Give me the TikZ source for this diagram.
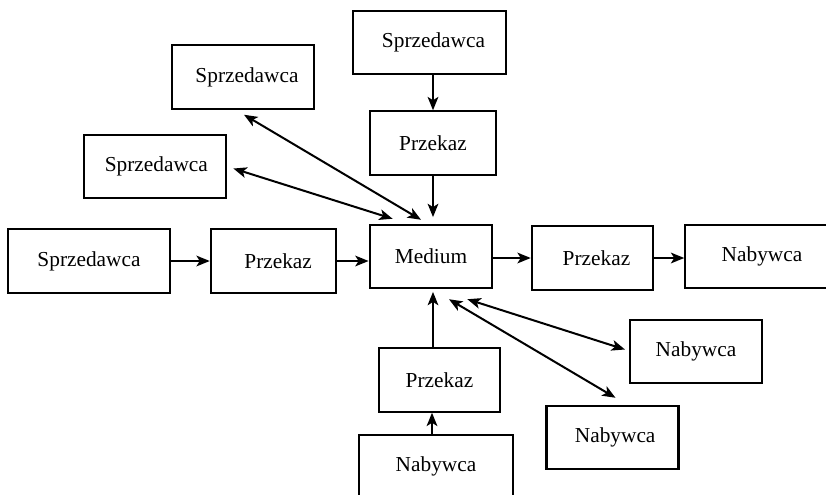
\documentclass[tikz,border=0pt]{standalone}
\usepackage{fontspec}
\setmainfont{Liberation Serif}
\usetikzlibrary{arrows.meta,calc}
\begin{document}
\begin{tikzpicture}[x=0.75pt,y=0.75pt,yscale=-1,xscale=1,
	box/.style={draw,line width=1.6pt,rectangle,inner sep=0.75pt,minimum height=47.5pt,font=\fontsize{16}{19}\selectfont},
	arr/.style={line width=1.5pt,-{Stealth[length=10pt,width=8pt,inset=2.5pt]}},
	dblarr/.style={line width=1.5pt,{Stealth[length=10pt,width=8pt,inset=2.5pt]}-{Stealth[length=10pt,width=8pt,inset=2.5pt]}}]
	\useasboundingbox (0,0) rectangle (826,494);
	\clip (0,0) rectangle (826,494);
	
	% Text Node
	\node [box,minimum width=115pt] (sprz1) at (429.5,42.5) {\hspace{6pt}Sprzedawca};
	% Text Node
	\node [box,minimum width=94pt] (przek2) at (433,143) {Przekaz};
	% Text Node
	\node [box,minimum width=107pt] (sprz2) at (243,77) {\hspace{6pt}Sprzedawca};
	% Text Node
	\node [box,minimum width=107pt] (sprz3) at (155,166.5) {\hspace{2pt}Sprzedawca};
	% Text Node
	\node [box,minimum width=122pt] (sprz4) at (89,261) {Sprzedawca};
	% Text Node
	\node [box,minimum width=94pt] (przek1) at (273.5,261) {\hspace{7pt}Przekaz};
	% Text Node
	\node [box,minimum width=92pt] (medium) at (431,256.5) {Medium};
	% Text Node
	\node [box,minimum width=91pt] (przek3) at (592.5,258) {\hspace{6pt}Przekaz};
	% Text Node
	\node [box,minimum width=115pt] (nab1) at (762,256.5) {Nabywca};
	% Text Node
	\node [box,minimum width=99pt] (nab2) at (696,351.5) {Nabywca};
	% Text Node
	\node [box,minimum width=99pt] (nab3) at (612.5,437.5) {\hspace{4pt}Nabywca};
	% Text Node
	\node [box,minimum width=91pt] (przek4) at (439.5,380) {Przekaz};
	% Text Node
	\node [box,minimum width=115pt] (nab4) at (436,466.5) {Nabywca};
	
	%Straight Lines
	\draw [arr] (przek2.north |- sprz1.south) -- (przek2.north);
	%Straight Lines
	\draw [arr,shorten >=5pt] (przek2.south) -- (przek2.south |- medium.north);
	%Straight Lines
	\draw [dblarr] ($(sprz2.south)+(1,5)$) -- ($(medium.north)+(-10,-4)$);
	%Straight Lines
	\draw [dblarr] ($(sprz3.east)+(6,2)$) -- ($(medium.north west)+(24,-5)$);
	%Straight Lines
	\draw [arr] (sprz4) -- (przek1);
	%Straight Lines
	\draw [arr] (przek1.east) -- (przek1.east -| medium.west);
	%Straight Lines
	\draw [arr] ($(medium.east)+(0,1.5)$) -- ($(medium.east -| przek3.west)+(0,1.5)$);
	%Straight Lines
	\draw [arr] (przek3.east) -- (przek3.east -| nab1.west);
	%Straight Lines
	\draw [dblarr] ($(medium.south east)+(-26,10)$) -- ($(nab2.west)+(-4,-2)$);
	%Straight Lines
	\draw [dblarr] ($(medium.south)+(18,10)$) -- ($(nab3.north)+(3,-7)$);
	%Straight Lines
	\draw [arr,shorten >=2pt] ($(medium.south |- przek4.north)+(2,0)$) -- ($(medium.south)+(2,0)$);
	%Straight Lines
	\draw [arr] ($(medium.south |- nab4.north)+(1,0)$) -- ($(medium.south |- przek4.south)+(1,0)$);
	
\end{tikzpicture}
\end{document}
